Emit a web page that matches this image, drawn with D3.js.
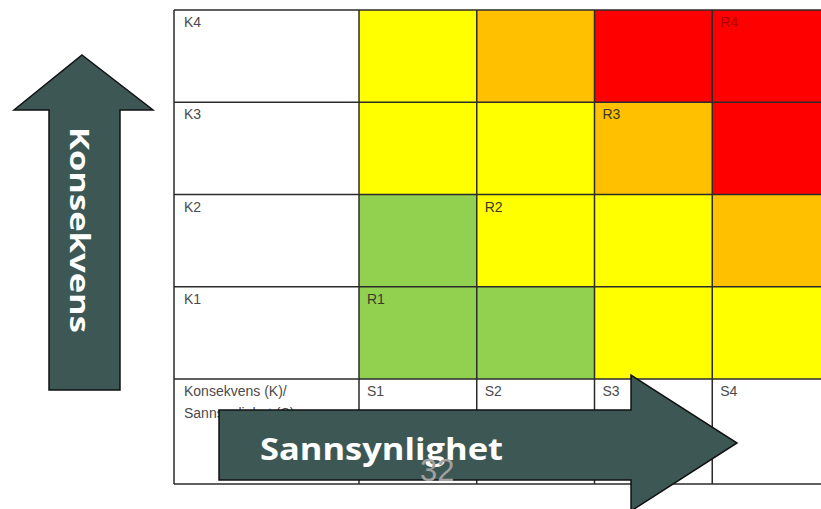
<!DOCTYPE html>
<html>
<head>
<meta charset="utf-8">
<script src="https://cdn.jsdelivr.net/npm/d3@7"></script>
<style>
	body { margin: 0; background: #fff; }
	svg { display: block; }
</style>
</head>
<body>
<svg id="chart" width="821" height="509"></svg>
<script>

// konsekvens rows (top to bottom) and sannsynlighet columns
var rows = ['K4', 'K3', 'K2', 'K1'];
var cols = ['S1', 'S2', 'S3', 'S4'];

// risk level per cell, one array per row: 1 green, 2 yellow, 3 orange, 4 red
var levels = [
	[2, 3, 4, 4],
	[2, 2, 3, 4],
	[1, 2, 2, 3],
	[1, 1, 2, 2]
];

var levelColors = ['#92d050', '#ffff00', '#ffc000', '#ff0000'];

var risks = ['R1', 'R2', 'R3', 'R4'];
var riskK = ['K1', 'K2', 'K3', 'K4'];
var riskS = ['S1', 'S2', 'S3', 'S4'];

var cornerLabel = ['Konsekvens (K)/', 'Sannsynlighet (S)'];
var yTitle = 'Konsekvens';
var xTitle = 'Sannsynlighet';
var pageNumber = '32';

var svg = d3.select('#chart');

var tableLeft = 174, labelRight = 359, tableTop = 10, gridBottom = 379, tableBottom = 484;

var x = d3.scaleBand().domain(cols).range([labelRight, 830]);
var y = d3.scaleBand().domain(rows).range([tableTop, gridBottom]);

var table = svg.append('g');

var cells = [];
rows.forEach(function (k, i) {
	cols.forEach(function (s, j) {
		cells.push({k: k, s: s, level: levels[i][j]});
	});
});

table.selectAll('rect.cell')
	.data(cells)
	.enter()
	.append('rect')
	.attr('class', 'cell')
	.attr('x', function (d) { return x(d.s); })
	.attr('y', function (d) { return y(d.k); })
	.attr('width', x.bandwidth())
	.attr('height', y.bandwidth())
	.attr('fill', function (d) { return levelColors[d.level - 1]; });

// grid lines
var lineStyle = 'stroke:#2b2b2b;stroke-width:1.5';
var hLines = rows.map(function (k) { return y(k); }).concat([gridBottom, tableBottom]);
var vLines = [tableLeft].concat(cols.map(function (s) { return x(s); }));

table.selectAll('line.h')
	.data(hLines)
	.enter()
	.append('line')
	.attr('class', 'h')
	.attr('x1', tableLeft)
	.attr('x2', 821)
	.attr('y1', function (d) { return d; })
	.attr('y2', function (d) { return d; })
	.attr('style', lineStyle);

table.selectAll('line.v')
	.data(vLines)
	.enter()
	.append('line')
	.attr('class', 'v')
	.attr('x1', function (d) { return d; })
	.attr('x2', function (d) { return d; })
	.attr('y1', tableTop)
	.attr('y2', tableBottom)
	.attr('style', lineStyle);

var cellFont = '"Liberation Sans", Arial, sans-serif';
var cellSize = 14;

table.selectAll('text.k')
	.data(rows)
	.enter()
	.append('text')
	.attr('class', 'k')
	.attr('x', tableLeft + 10)
	.attr('y', function (d) { return y(d) + 17; })
	.attr('font-family', cellFont)
	.attr('font-size', cellSize)
	.attr('fill', '#4a4a4a')
	.text(function (d) { return d; });

table.selectAll('text.s')
	.data(cols)
	.enter()
	.append('text')
	.attr('class', 's')
	.attr('x', function (d) { return x(d) + 8; })
	.attr('y', gridBottom + 17)
	.attr('font-family', cellFont)
	.attr('font-size', cellSize)
	.attr('fill', '#4a4a4a')
	.text(function (d) { return d; });

table.selectAll('text.corner')
	.data(cornerLabel)
	.enter()
	.append('text')
	.attr('class', 'corner')
	.attr('x', tableLeft + 10)
	.attr('y', function (d, i) { return gridBottom + 17 + i * 22; })
	.attr('font-family', cellFont)
	.attr('font-size', cellSize)
	.attr('fill', '#4a4a4a')
	.text(function (d) { return d; });

table.selectAll('text.r')
	.data(risks)
	.enter()
	.append('text')
	.attr('class', 'r')
	.attr('x', function (d, i) { return x(riskS[i]) + 8; })
	.attr('y', function (d, i) { return y(riskK[i]) + 17; })
	.attr('font-family', cellFont)
	.attr('font-size', cellSize)
	.attr('fill', function (d, i) { return i == 3 ? '#b00000' : '#3a3a2a'; })
	.text(function (d) { return d; });

// arrows
var arrowFill = '#3d5854';

var upArrow = [[82, 55], [153, 110], [120, 110], [120, 390], [49, 390], [49, 110], [14, 110]];
svg.append('polygon')
	.attr('points', upArrow.join(' '))
	.attr('fill', arrowFill)
	.attr('stroke', '#111')
	.attr('stroke-width', 1.5);

svg.append('text')
	.attr('transform', 'translate(70,230) rotate(90)')
	.attr('text-anchor', 'middle')
	.attr('font-family', '"Open Sans", sans-serif')
	.attr('font-weight', 'bold')
	.attr('font-size', 26)
	.attr('textLength', 206)
	.attr('lengthAdjust', 'spacingAndGlyphs')
	.attr('fill', '#fff')
	.text(yTitle);

var rightArrow = [[219, 410], [631, 410], [631, 375], [737, 443], [631, 511], [631, 480], [219, 480]];
svg.append('polygon')
	.attr('points', rightArrow.join(' '))
	.attr('fill', arrowFill)
	.attr('stroke', '#111')
	.attr('stroke-width', 1.5);

svg.append('text')
	.attr('x', 260)
	.attr('y', 460)
	.attr('font-family', '"Open Sans", sans-serif')
	.attr('font-weight', 'bold')
	.attr('font-size', 31)
	.attr('textLength', 243)
	.attr('lengthAdjust', 'spacingAndGlyphs')
	.attr('fill', '#fff')
	.text(xTitle);

svg.append('text')
	.attr('x', 420)
	.attr('y', 481)
	.attr('font-family', '"Liberation Sans", Arial, sans-serif')
	.attr('font-size', 31)
	.attr('fill', '#a0a0a0')
	.text(pageNumber);

</script>
</body>
</html>
